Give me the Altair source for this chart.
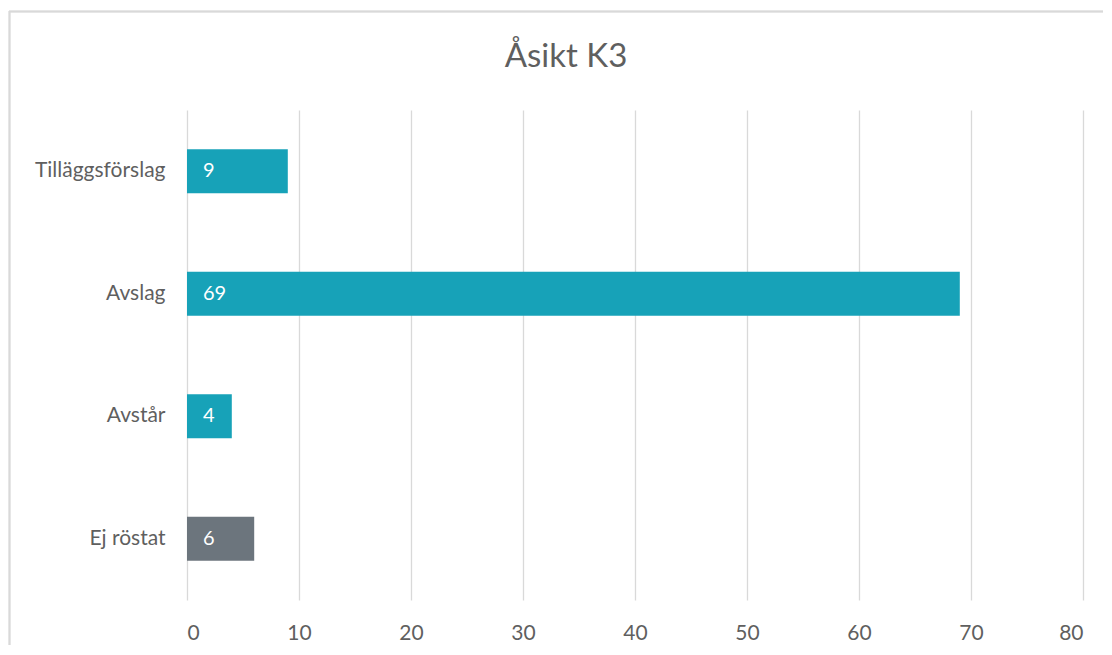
import altair as alt
import pandas as pd

categories = ["Tilläggsförslag", "Avslag", "Avstår", "Ej röstat"]
values = [9, 69, 4, 6]
colors = ["#17A2B8", "#17A2B8", "#17A2B8", "#6C757D"]
x_ticks = [0, 10, 20, 30, 40, 50, 60, 70, 80]
title_text = ["Åsikt K3"]

df = pd.DataFrame({"cat": categories, "val": values, "col": colors})

FONT = "Lato"
GREY = "#5F5F5F"

y_enc = alt.Y("cat:N", sort=categories, title=None,
              scale=alt.Scale(paddingInner=0.64, paddingOuter=0.32),
              axis=alt.Axis(domain=False, ticks=False, labelPadding=22,
                            labelFontSize=21, labelColor=GREY, labelFont=FONT,
                            grid=False))
x_enc = alt.X("val:Q", title=None,
              scale=alt.Scale(domain=[0, 80], nice=False),
              axis=alt.Axis(values=x_ticks, domain=False, ticks=False,
                            labelPadding=22, labelFontSize=21, labelColor=GREY,
                            labelFont=FONT, grid=True, gridColor="#D9D9D9",
                            gridWidth=1.3))

bars = alt.Chart(df).mark_bar().encode(
    x=x_enc, y=y_enc,
    color=alt.Color("col:N", scale=None, legend=None),
)

labels = alt.Chart(df).mark_text(align="left", baseline="middle", dx=16,
                                 fontSize=20, color="white", font=FONT).encode(
    x=alt.X("zero:Q"),
    y=alt.Y("cat:N", sort=categories),
    text=alt.Text("val:Q"),
).transform_calculate(zero="0")

title = alt.Chart(pd.DataFrame({"t": title_text})).mark_text(
    align="center", baseline="alphabetic", fontSize=33, font=FONT, color=GREY
).encode(x=alt.value(379), y=alt.value(-43), text="t:N")

border_top = alt.Chart(df).mark_rule(color="#D9D9D9", strokeWidth=1.5).encode(
    x=alt.value(-178), x2=alt.value(1000), y=alt.value(-98.5))
border_left = alt.Chart(df).mark_rule(color="#D9D9D9", strokeWidth=1.5).encode(
    x=alt.value(-177.5), y=alt.value(-99), y2=alt.value(700))

chart = alt.layer(border_top, border_left, bars, labels, title).properties(
    width=896, height=490,
    padding={"left": 179, "top": 102, "right": 20, "bottom": 45},
    autosize=alt.AutoSizeParams(type="none"),
).configure_view(stroke=None)

chart.save("out.html", embed_options={"renderer": "svg", "actions": False})
